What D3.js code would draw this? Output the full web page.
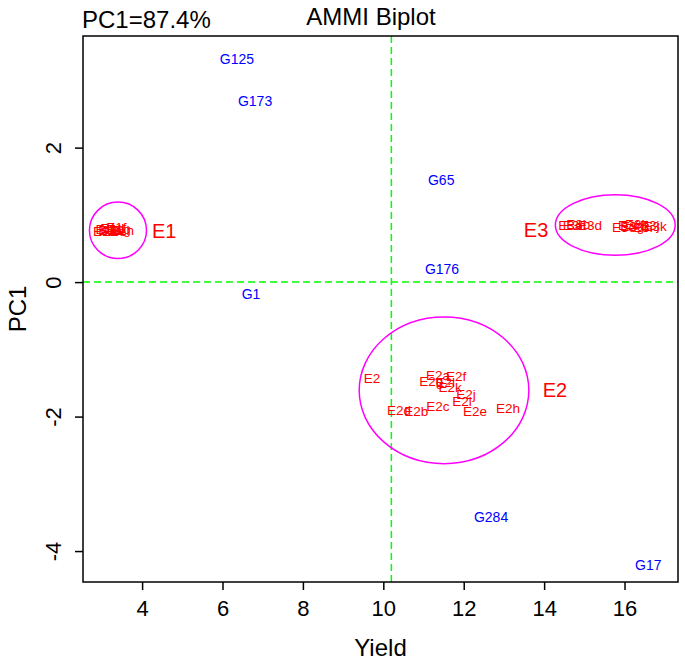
<!DOCTYPE html>
<html><head><meta charset="utf-8">
<script src="https://cdn.jsdelivr.net/npm/d3@7"></script>
<style>body{margin:0;background:#fff}svg{display:block}text{font-family:"Liberation Sans",Arial,sans-serif}</style>
</head><body><svg id="c" width="685" height="662"></svg>
<script>
// Genotype labels (blue)
const genoNames = ["G125","G173","G65","G176","G1","G284","G17"];
const genoX = [6.36, 6.81, 11.44, 11.46, 6.71, 12.68, 16.59];
const genoY = [3.32, 2.69, 1.52, 0.19, -0.18, -3.49, -4.21];

// Environment replicate labels (red)
const envNames = [
  "E1a","E1b","E1c","E1d","E1e","E1f","E1g","E1h",
  "E2","E2a","E2f","E2g","E2l","E2k","E2j","E2i","E2c","E2e","E2h","E2d","E2b",
  "E3a","E3c","E3b","E3d","E3e","E3f","E3g","E3h","E3i","E3j","E3k"
];
const envX = [
  3.08, 3.14, 3.20, 3.26, 3.31, 3.36, 3.42, 3.50,
  9.72, 11.36, 11.81, 11.19, 11.54, 11.66, 12.06, 11.96, 11.36, 12.28, 13.10, 10.39, 10.82,
  14.65, 14.75, 14.85, 15.14, 15.99, 16.09, 16.19, 16.31, 16.46, 16.63, 16.76
];
const envY = [
  0.75, 0.79, 0.77, 0.80, 0.76, 0.81, 0.78, 0.77,
  -1.43, -1.38, -1.40, -1.47, -1.49, -1.56, -1.67, -1.77, -1.84, -1.92, -1.87, -1.90, -1.92,
  0.85, 0.84, 0.86, 0.85, 0.82, 0.84, 0.83, 0.86, 0.81, 0.85, 0.83
];

// Environment group labels and ellipses
const groupNames = ["E1","E2","E3"];
const groupLabelX = [4.55, 14.27, 13.80];
const groupLabelY = [0.76, -1.61, 0.77];
const ellCX = [3.40, 11.51, 15.77];
const ellCY = [0.77, -1.61, 0.85];
const ellRX = [0.71, 2.11, 1.49];
const ellRY = [0.42, 1.09, 0.45];

const xTicks = [4, 6, 8, 10, 12, 14, 16];
const yTicks = [2, 0, -2, -4];
const meanYield = 10.2;

const L = 83, R = 678, T = 36, B = 582;
const svg = d3.select("#c");
const x = d3.scaleLinear().domain([2.53, 17.33]).range([L, R]);
const y = d3.scaleLinear().domain([-4.46, 3.66]).range([B, T]);

// reference lines
svg.append("line").attr("x1", L).attr("x2", R).attr("y1", y(0)).attr("y2", y(0))
  .attr("stroke", "#00ff00").attr("stroke-width", 1.5).attr("stroke-dasharray", "7,4");
svg.append("line").attr("x1", x(meanYield)).attr("x2", x(meanYield)).attr("y1", T).attr("y2", B)
  .attr("stroke", "#00ff00").attr("stroke-width", 1.5).attr("stroke-dasharray", "7,4");

// ellipses
svg.selectAll("ellipse.g").data(groupNames).join("ellipse")
  .attr("cx", (d, i) => x(ellCX[i])).attr("cy", (d, i) => y(ellCY[i]))
  .attr("rx", (d, i) => x(ellCX[i] + ellRX[i]) - x(ellCX[i]))
  .attr("ry", (d, i) => y(ellCY[i]) - y(ellCY[i] + ellRY[i]))
  .attr("fill", "none").attr("stroke", "#ff00ff").attr("stroke-width", 1.5);

// env labels
svg.selectAll("text.env").data(envNames).join("text").attr("class", "env")
  .attr("x", (d, i) => x(envX[i])).attr("y", (d, i) => y(envY[i]))
  .attr("dy", "0.35em").attr("text-anchor", "middle")
  .attr("font-size", 13.5).attr("fill", "#ff0000").text(d => d);

// group labels
svg.selectAll("text.grp").data(groupNames).join("text").attr("class", "grp")
  .attr("x", (d, i) => x(groupLabelX[i])).attr("y", (d, i) => y(groupLabelY[i]))
  .attr("dy", "0.35em").attr("text-anchor", "middle")
  .attr("font-size", 20).attr("fill", "#ff0000").text(d => d);

// genotype labels
svg.selectAll("text.geno").data(genoNames).join("text").attr("class", "geno")
  .attr("x", (d, i) => x(genoX[i])).attr("y", (d, i) => y(genoY[i]))
  .attr("dy", "0.35em").attr("text-anchor", "middle")
  .attr("font-size", 14).attr("fill", "#0000ff").text(d => d);

// box
svg.append("rect").attr("x", L).attr("y", T).attr("width", R - L).attr("height", B - T)
  .attr("fill", "none").attr("stroke", "#000").attr("stroke-width", 1.5);

// axes
const xa = svg.append("g").attr("transform", `translate(0,${B})`)
  .call(d3.axisBottom(x).tickValues(xTicks).tickSize(8).tickPadding(10).tickFormat(d => String(d)));
xa.select(".domain").remove();
xa.selectAll("text").attr("font-size", 22).attr("fill", "#000").attr("font-family", "Liberation Sans, Arial, sans-serif");
xa.selectAll("line").attr("stroke-width", 1.5);

const ya = svg.append("g").attr("transform", `translate(${L},0)`)
  .call(d3.axisLeft(y).tickValues(yTicks).tickSize(8).tickFormat(d => String(d)));
ya.select(".domain").remove();
ya.selectAll("line").attr("stroke-width", 1.5);
ya.selectAll("text").remove();
ya.selectAll(".tick").append("text")
  .attr("transform", "translate(-22,0) rotate(-90)")
  .attr("text-anchor", "middle").attr("dy", "0")
  .attr("font-size", 22).attr("fill", "#000")
  .attr("font-family", "Liberation Sans, Arial, sans-serif")
  .text(d => String(d));

// titles
svg.append("text").attr("x", 371).attr("y", 25).attr("text-anchor", "middle")
  .attr("font-size", 24).text("AMMI Biplot");
svg.append("text").attr("x", 82).attr("y", 28).attr("text-anchor", "start")
  .attr("font-size", 24).text("PC1=87.4%");
svg.append("text").attr("x", (L + R) / 2).attr("y", 656).attr("text-anchor", "middle")
  .attr("font-size", 24).text("Yield");
svg.append("text").attr("transform", `translate(26,${(T + B) / 2}) rotate(-90)`)
  .attr("text-anchor", "middle").attr("font-size", 24).text("PC1");
</script></body></html>
